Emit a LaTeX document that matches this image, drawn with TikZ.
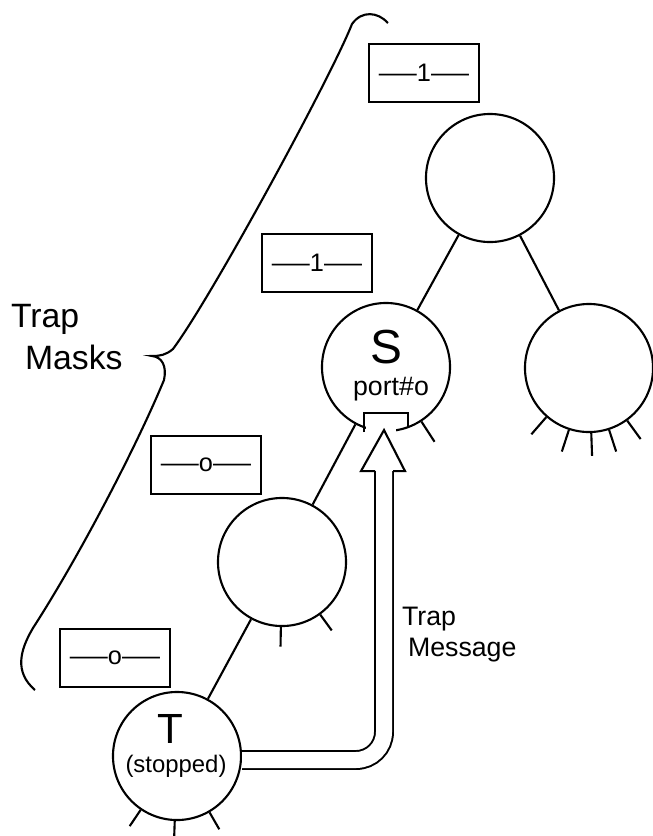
\documentclass[tikz,border=0pt]{standalone}
\usepackage{fontspec}
\setmainfont{Liberation Sans}
\usetikzlibrary{positioning, calc}

\newcommand{\maskdash}{\scalebox{1.5}[1]{---}}

\begin{document}
\begin{tikzpicture}[
    x=0.025cm, y=-0.025cm,
    line width=1.5pt,
    proc/.style={circle, draw, minimum size=3.2cm, inner sep=0pt},
    mask/.style={rectangle, draw, minimum width=2.75cm, minimum height=1.45cm, inner sep=0pt, font=\fontsize{18}{20}\selectfont},
    lbl/.style={inner sep=0pt},
    msg/.style={double, double distance=0.4cm, line width=1.4pt, rounded corners=0.7cm}
  ]
  \useasboundingbox (0,0) rectangle (652,836);

  % process tree
  \node (n1) [proc] at (490,178) {};
  \node (n2) [proc] at (589,368) {};
  \node (S) [proc] at (386,367) {};
  \node (n3) [proc] at (282,562) {};
  \node (T) [proc] at (177,756) {};

  \draw (n1) -- (S);
  \draw (n1) -- (n2);
  \draw (S) -- (n3);
  \draw (n3) -- (T);

  % little legs
  \foreach \a in {229,252,272,288,306}
    \draw (n2.\a) -- ($(n2.center)!1.35!(n2.\a)$);
  \foreach \a in {269,306}
    \draw (n3.\a) -- ($(n3.center)!1.3!(n3.\a)$);
  \foreach \a in {236,268,300}
    \draw (T.\a) -- ($(T.center)!1.3!(T.\a)$);
  \draw (S.303) -- ($(S.center)!1.37!(S.303)$);

  \node (Sname) [lbl, font=\fontsize{34}{36}\selectfont] at ($(S)+(0,-20)$) {S};
  \node (Sport) [lbl, font=\fontsize{19}{21}\selectfont] at ($(S)+(5,22)$) {port\#o};
  \node (Tname) [lbl, font=\fontsize{30}{32}\selectfont] at ($(T)+(-7,-27)$) {T};
  \node (Tstop) [lbl, font=\fontsize{17}{19}\selectfont] at ($(T)+(-1,10)$) {(stopped)};

  % port on S
  \fill[white] ($(S.south)+(-20,-14)$) rectangle ($(S.south)+(10,10)$);
  \draw ($(S.south)+(-22,0)$) -- ++(0,-19) -- ++(44,0) -- ++(0,15);

  % trap message
  \coordinate (tip) at ($(S.south)+(-2,-2)$);
  \draw[msg] ($(T.east)+(0,4)$) -| ($(tip)+(0,41)$);
  \draw ($(tip)+(-9,41)$) -- ($(tip)+(-23,41)$) -- (tip) -- ($(tip)+(21,41)$) -- ($(tip)+(9,41)$);
  \node (msgtext) [lbl, font=\fontsize{19}{22}\selectfont, align=left, anchor=north west] at (401,606) {Trap\\\hspace*{0.15cm}Message};

  % masks
  \node (m1) [mask] at (424,73) {\maskdash1\maskdash};
  \node (m2) [mask] at (317,263) {\maskdash1\maskdash};
  \node (m3) [mask] at (206,465) {\maskdash o\maskdash};
  \node (m4) [mask] at (115,658) {\maskdash o\maskdash};

  % brace
  \draw (388,23) .. controls (378,12) and (362,10) .. (352,24)
    .. controls (332,75) and (213,295) .. (173,349)
    .. controls (166,355) and (160,356) .. (152,356)
    .. controls (162,357) and (167,366) .. (164,380)
    .. controls (135,450) and (77,560) .. (33,628)
    .. controls (20,650) and (14,672) .. (35,690);
  \node (masks) [lbl, font=\fontsize{24}{30}\selectfont, align=left, anchor=north west] at (10,303) {Trap\\\hspace*{0.35cm}Masks};
\end{tikzpicture}
\end{document}
